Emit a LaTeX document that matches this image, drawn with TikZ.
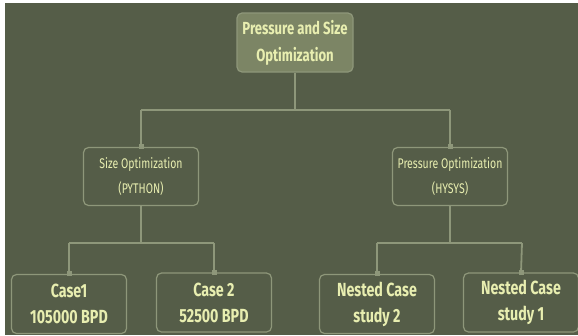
\documentclass[tikz,border=0pt]{standalone}
\usepackage{fontspec}
\setmainfont{Fira Sans}[FakeStretch=0.75]
\definecolor{bgc}{HTML}{555D48}
\definecolor{linec}{HTML}{8E977A}
\definecolor{rootc}{HTML}{7C8565}
\definecolor{txtc}{HTML}{E8EEB0}
\tikzset{
  conn/.style={draw=linec, line width=1.8pt},
  rootbox/.style={draw=linec, fill=rootc, rounded corners=5pt, line width=1.2pt, minimum width=116pt, minimum height=59pt, text=txtc, font=\bfseries\fontsize{17.5}{27}\selectfont, align=center},
  midbox/.style={draw=linec, fill=bgc, rounded corners=5pt, line width=1.2pt, minimum width=115pt, minimum height=58pt, text=txtc, font=\fontsize{14}{25}\selectfont, align=center},
  leafbox/.style={draw=linec, fill=bgc, rounded corners=5pt, line width=1.2pt, minimum width=115pt, minimum height=59pt, text=txtc, font=\bfseries\fontsize{19}{26}\selectfont, align=center},
  joint/.style={fill=linec, minimum size=5pt, inner sep=0pt, draw=none}
}
\begin{document}
\begin{tikzpicture}[x=1pt,y=-1pt]
\useasboundingbox (0,0) rectangle (578,335);
\fill[white] (0,0) rectangle (578,335);
\fill[bgc] (5,3) rectangle (578,335);
% connectors
\coordinate (h1) at (295,110);
\coordinate (h1l) at (141,110);
\coordinate (h1r) at (450,110);
\coordinate (h2) at (141,243);
\coordinate (h2l) at (69,243);
\coordinate (h2r) at (214,243);
\coordinate (h3) at (450,243);
\coordinate (h3l) at (377,243);
\coordinate (h3r) at (522,243);
\node[rootbox] (root) at (295,42.5) {Pressure and Size\\Optimization};
\node[midbox] (size) at (141,176.5) {Size Optimization\\(PYTHON)};
\node[midbox] (pres) at (450,176.5) {Pressure Optimization\\(HYSYS)};
\node[leafbox] (c1) at (69,304) {Case1\\105000 BPD};
\node[leafbox] (c2) at (214,302.5) {Case 2\\52500 BPD};
\node[leafbox] (n2) at (377,304) {Nested Case\\study 2};
\node[leafbox] (n1) at (521,302.5) {Nested Case\\study 1};
\draw[conn] (root.south) -- (h1);
\draw[conn] (h1l) -- (h1r);
\draw[conn] (h1l) -- (size.north);
\draw[conn] (h1r) -- (pres.north);
\draw[conn] (size.south) -- (h2);
\draw[conn] (h2l) -- (h2r);
\draw[conn] (h2l) -- (c1.north);
\draw[conn] (h2r) -- (c2.north);
\draw[conn] (pres.south) -- (h3);
\draw[conn] (h3l) -- (h3r);
\draw[conn] (h3l) -- (n2.north);
\draw[conn] (h3r) -- (n1.north);
\node[joint] (j1) at (size.north) {};
\node[joint] (j2) at (pres.north) {};
\node[joint] (j3) at (c1.north) {};
\node[joint] (j4) at (c2.north) {};
\node[joint] (j5) at (n2.north) {};
\node[joint] (j6) at (n1.north) {};
\end{tikzpicture}
\end{document}
